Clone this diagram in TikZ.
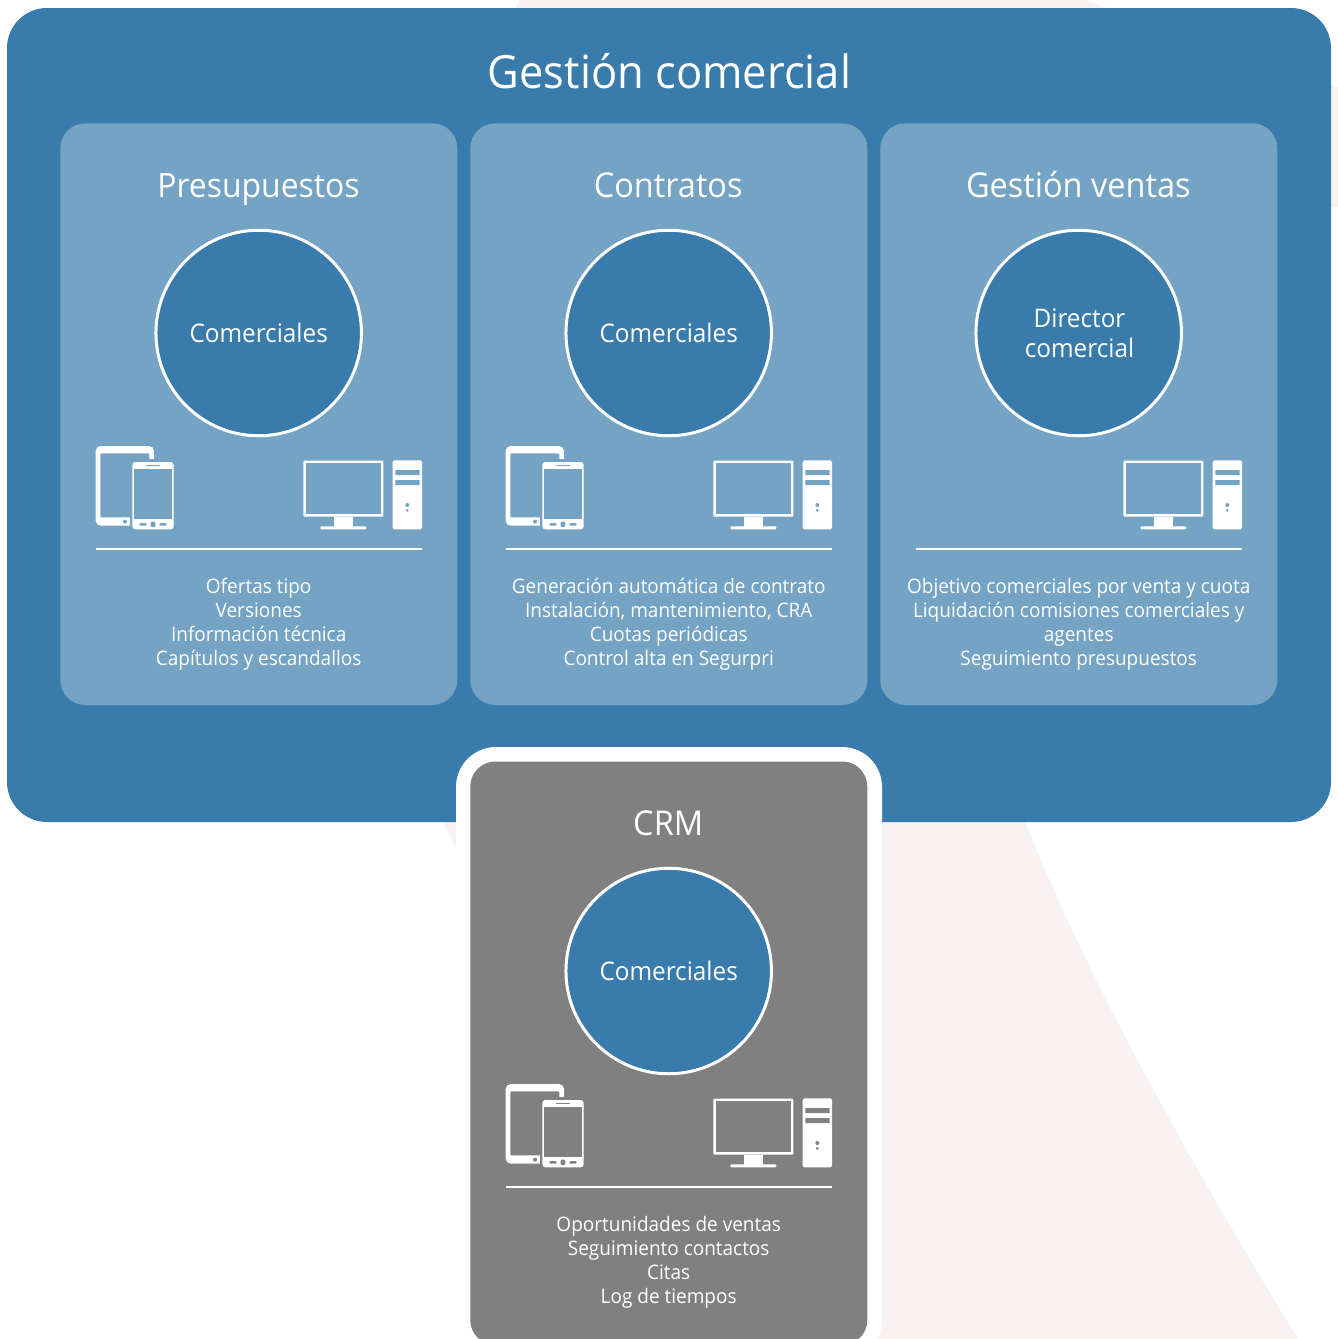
\documentclass[tikz,border=0pt]{standalone}
\usepackage{fontspec}
\setmainfont[FakeStretch=0.95]{Open Sans}
\definecolor{outerblue}{HTML}{397BAA}
\definecolor{panelblue}{HTML}{75A3C4}
\definecolor{panelgray}{HTML}{808080}
\definecolor{pinkbg}{HTML}{F8F2F2}
\newcommand{\szA}{\fontsize{45.8}{46}\selectfont}
\newcommand{\szB}{\fontsize{34.2}{34}\selectfont}
\newcommand{\szP}{\fontsize{33.6}{34}\selectfont}
\newcommand{\szC}{\fontsize{25.6}{25}\selectfont}
\newcommand{\szD}{\fontsize{20}{20}\selectfont}
\tikzset{
 outerbox/.style={fill=outerblue,rounded corners=40pt},
 panelbox/.style={fill=panelblue,rounded corners=25pt},
 graybox/.style={fill=panelgray,rounded corners=25pt},
 ringnode/.style={circle,fill=outerblue,draw=white,line width=3pt,minimum size=205.5pt,inner sep=0pt,outer sep=0pt,text=white,font=\szC,align=center},
 titletext/.style={anchor=base,text=white,font=\szB,inner sep=0pt},
 listtext/.style={anchor=base,text=white,font=\szD,inner sep=0pt},
 sepline/.style={draw=white,line width=1.2pt},
}
% #1 dx, #2 dy, #3 background
\newcommand{\mobileicons}[3]{
 \begin{scope}[shift={(#1,#2)}]
  \fill[white,rounded corners=5pt] (95.7,446) rectangle (154,525.7);
  \fill[#3,rounded corners=1pt] (100.3,453.3) rectangle (149.3,517.3);
  \fill[#3] (129.7,517) rectangle (155,526.5);
  \fill[#3] (149,459.3) rectangle (155,526.5);
  \fill[#3] (125,521.6) circle (2pt);
  \fill[white,rounded corners=3pt] (132.3,462) rectangle (173.7,529.3);
  \fill[#3] (134.2,469.3) rectangle (172,519.3);
  \fill[#3] (146,464.8) rectangle (160,465.9);
  \fill[#3,rounded corners=1pt] (139.3,523.2) rectangle (146.7,525.6) (159.3,523.2) rectangle (166.7,525.6) (150.7,521.6) rectangle (155.3,527);
 \end{scope}
}
\newcommand{\deskicons}[3]{
 \begin{scope}[shift={(#1,#2)}]
  \fill[white,rounded corners=1pt] (303.3,460.7) rectangle (383.3,516.7);
  \fill[#3] (306.3,463.4) rectangle (380.7,514);
  \fill[white] (334,516.7) rectangle (352.7,527);
  \fill[white,rounded corners=1pt] (320.3,526.3) rectangle (366.3,529.3);
  \fill[white,rounded corners=1.5pt] (392.7,460.3) rectangle (422,529.3);
  \fill[#3] (395.3,470) rectangle (419.7,475) (395.3,480) rectangle (419.7,485);
  \fill[#3] (407.3,505) circle (2pt) (407.3,510.4) circle (1.5pt);
 \end{scope}
}
\begin{document}
\begin{tikzpicture}[x=1pt,y=-1pt]
\useasboundingbox (0,0) rectangle (1338,1339);
\clip (0,0) rectangle (1338,1339);
% background shape
\fill[pinkbg] (520,0) -- (1087,0) -- (1107,8) .. controls (1190,30) and (1270,60) .. (1338,87) -- (1338,207) .. controls (1200,190) and (1000,500) .. (1025,822) .. controls (1080,960) and (1170,1130) .. (1298,1339) -- (870,1339) -- (456,848) -- (443,822) -- (300,400) -- cycle;
% outer
\fill[outerbox] (7,8) rectangle (1331,822);
\node[anchor=base,text=white,font=\szA,inner sep=0pt] (main) at (669.5,88) {Gestión comercial};
% panels
\fill[panelbox] (60.3,123.3) rectangle (457.3,705);
\fill[panelbox] (470.3,123.3) rectangle (867.3,705);
\fill[panelbox] (880.3,123.3) rectangle (1277.3,705);
% CRM frame
\fill[white,rounded corners=40pt] (456,747) rectangle (882,1360);
\fill[graybox] (470.3,761.5) rectangle (867.3,1345);
% panel 1
\node[titletext,font=\szP] (t1) at (258.5,197) {Presupuestos};
\node[ringnode] (c1) at (258.7,333) {Comerciales};
\mobileicons{0}{0}{panelblue}
\deskicons{0}{0}{panelblue}
\draw[sepline] (95.7,549) -- (422,549);
\node[listtext] (a1) at (258.7,593) {Ofertas tipo};
\node[listtext] (a2) at (258.7,617) {Versiones};
\node[listtext] (a3) at (258.7,641) {Información técnica};
\node[listtext] (a4) at (258.7,665) {Capítulos y escandallos};
% panel 2
\node[titletext] (t2) at (668.2,197) {Contratos};
\node[ringnode] (c2) at (668.7,333) {Comerciales};
\mobileicons{410}{0}{panelblue}
\deskicons{410}{0}{panelblue}
\draw[sepline] (505.7,549) -- (832,549);
\node[listtext] (b1) at (668.7,593) {Generación automática de contrato};
\node[listtext] (b2) at (668.7,617) {Instalación, mantenimiento, CRA};
\node[listtext] (b3) at (668.7,641) {Cuotas periódicas};
\node[listtext] (b4) at (668.7,665) {Control alta en Segurpri};
% panel 3
\node[titletext] (t3) at (1078.3,197) {Gestión ventas};
\node[ringnode] (c3) at (1078.7,333) {};
\node[anchor=base,text=white,font=\szC,inner sep=0pt] (d1) at (1079.5,327) {Director};
\node[anchor=base,text=white,font=\szC,inner sep=0pt] (d2) at (1079.5,357.5) {comercial};
\deskicons{820}{0}{panelblue}
\draw[sepline] (915.7,549) -- (1242,549);
\node[listtext] (e1) at (1078.7,593) {Objetivo comerciales por venta y cuota};
\node[listtext] (e2) at (1078.7,617) {Liquidación comisiones comerciales y};
\node[listtext] (e3) at (1078.7,641) {agentes};
\node[listtext] (e4) at (1078.7,665) {Seguimiento presupuestos};
% CRM
\node[titletext] (t4) at (668.2,835) {CRM};
\node[ringnode] (c4) at (668.7,971) {Comerciales};
\mobileicons{410}{638}{panelgray}
\deskicons{410}{638}{panelgray}
\draw[sepline] (505.7,1187) -- (832,1187);
\node[listtext] (f1) at (668.7,1231) {Oportunidades de ventas};
\node[listtext] (f2) at (668.7,1255) {Seguimiento contactos};
\node[listtext] (f3) at (668.7,1279) {Citas};
\node[listtext] (f4) at (668.7,1303) {Log de tiempos};
\end{tikzpicture}
\end{document}
